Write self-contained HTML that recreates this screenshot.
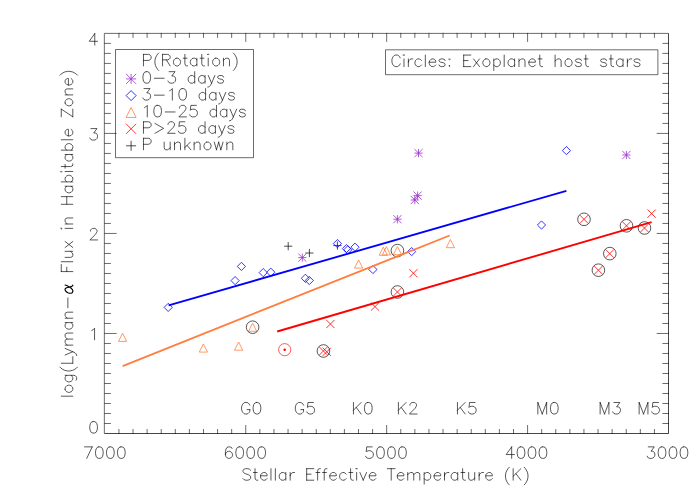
<!DOCTYPE html>
<html><head><meta charset="utf-8"><title>Lyman-alpha flux vs stellar effective temperature</title>
<style>
html,body{margin:0;padding:0;background:#fff;font-family:"Liberation Sans",sans-serif;}
svg{display:block}
</style></head>
<body>
<svg width="700" height="500" viewBox="0 0 700 500">
<rect width="700" height="500" fill="#fff"/>
<g fill="none" stroke-linecap="butt" stroke-linejoin="round">
<path d="M104.85 33.4H668.5V433.5H104.85ZM118.94 433.5v-4M118.94 33.4v4M133.03 433.5v-4M133.03 33.4v4M147.12 433.5v-4M147.12 33.4v4M161.22 433.5v-4M161.22 33.4v4M175.31 433.5v-4M175.31 33.4v4M189.4 433.5v-4M189.4 33.4v4M203.49 433.5v-4M203.49 33.4v4M217.58 433.5v-4M217.58 33.4v4M231.67 433.5v-4M231.67 33.4v4M245.76 433.5v-8M245.76 33.4v8M259.85 433.5v-4M259.85 33.4v4M273.94 433.5v-4M273.94 33.4v4M288.04 433.5v-4M288.04 33.4v4M302.13 433.5v-4M302.13 33.4v4M316.22 433.5v-4M316.22 33.4v4M330.31 433.5v-4M330.31 33.4v4M344.4 433.5v-4M344.4 33.4v4M358.49 433.5v-4M358.49 33.4v4M372.58 433.5v-4M372.58 33.4v4M386.67 433.5v-8M386.67 33.4v8M400.77 433.5v-4M400.77 33.4v4M414.86 433.5v-4M414.86 33.4v4M428.95 433.5v-4M428.95 33.4v4M443.04 433.5v-4M443.04 33.4v4M457.13 433.5v-4M457.13 33.4v4M471.22 433.5v-4M471.22 33.4v4M485.31 433.5v-4M485.31 33.4v4M499.4 433.5v-4M499.4 33.4v4M513.5 433.5v-4M513.5 33.4v4M527.59 433.5v-8M527.59 33.4v8M541.68 433.5v-4M541.68 33.4v4M555.77 433.5v-4M555.77 33.4v4M569.86 433.5v-4M569.86 33.4v4M583.95 433.5v-4M583.95 33.4v4M598.04 433.5v-4M598.04 33.4v4M612.13 433.5v-4M612.13 33.4v4M626.23 433.5v-4M626.23 33.4v4M640.32 433.5v-4M640.32 33.4v4M654.41 433.5v-4M654.41 33.4v4M104.85 423.5h5.6M668.5 423.5h-5.6M104.85 413.5h5.6M668.5 413.5h-5.6M104.85 403.49h5.6M668.5 403.49h-5.6M104.85 393.49h5.6M668.5 393.49h-5.6M104.85 383.49h5.6M668.5 383.49h-5.6M104.85 373.49h5.6M668.5 373.49h-5.6M104.85 363.48h5.6M668.5 363.48h-5.6M104.85 353.48h5.6M668.5 353.48h-5.6M104.85 343.48h5.6M668.5 343.48h-5.6M104.85 333.48h11.3M668.5 333.48h-11.3M104.85 323.47h5.6M668.5 323.47h-5.6M104.85 313.47h5.6M668.5 313.47h-5.6M104.85 303.47h5.6M668.5 303.47h-5.6M104.85 293.46h5.6M668.5 293.46h-5.6M104.85 283.46h5.6M668.5 283.46h-5.6M104.85 273.46h5.6M668.5 273.46h-5.6M104.85 263.46h5.6M668.5 263.46h-5.6M104.85 253.45h5.6M668.5 253.45h-5.6M104.85 243.45h5.6M668.5 243.45h-5.6M104.85 233.45h11.3M668.5 233.45h-11.3M104.85 223.45h5.6M668.5 223.45h-5.6M104.85 213.44h5.6M668.5 213.44h-5.6M104.85 203.44h5.6M668.5 203.44h-5.6M104.85 193.44h5.6M668.5 193.44h-5.6M104.85 183.44h5.6M668.5 183.44h-5.6M104.85 173.44h5.6M668.5 173.44h-5.6M104.85 163.43h5.6M668.5 163.43h-5.6M104.85 153.43h5.6M668.5 153.43h-5.6M104.85 143.43h5.6M668.5 143.43h-5.6M104.85 133.42h11.3M668.5 133.42h-11.3M104.85 123.42h5.6M668.5 123.42h-5.6M104.85 113.42h5.6M668.5 113.42h-5.6M104.85 103.42h5.6M668.5 103.42h-5.6M104.85 93.41h5.6M668.5 93.41h-5.6M104.85 83.41h5.6M668.5 83.41h-5.6M104.85 73.41h5.6M668.5 73.41h-5.6M104.85 63.41h5.6M668.5 63.41h-5.6M104.85 53.4h5.6M668.5 53.4h-5.6M104.85 43.4h5.6M668.5 43.4h-5.6" stroke="#000" stroke-width="0.58" stroke-linecap="square"/>
<path d="M104.85 433.5H668.5V33.4" stroke="#000" stroke-width="0.35"/>
<path d="M115.5 49.5H253.5V157.7H115.5ZM385.5 49.8H657.9V74.7H385.5Z" stroke="#000" stroke-width="0.58"/>
<path d="M92.22 446.87L86.73 458.4M84.53 446.87L92.22 446.87M98.81 446.87L97.16 447.42L96.06 449.06L95.51 451.81L95.51 453.46L96.06 456.2L97.16 457.85L98.81 458.4L99.91 458.4L101.55 457.85L102.65 456.2L103.2 453.46L103.2 451.81L102.65 449.06L101.55 447.42L99.91 446.87L98.81 446.87M109.79 446.87L108.15 447.42L107.05 449.06L106.5 451.81L106.5 453.46L107.05 456.2L108.15 457.85L109.79 458.4L110.89 458.4L112.54 457.85L113.64 456.2L114.19 453.46L114.19 451.81L113.64 449.06L112.54 447.42L110.89 446.87L109.79 446.87M120.78 446.87L119.13 447.42L118.03 449.06L117.48 451.81L117.48 453.46L118.03 456.2L119.13 457.85L120.78 458.4L121.88 458.4L123.52 457.85L124.62 456.2L125.17 453.46L125.17 451.81L124.62 449.06L123.52 447.42L121.88 446.87L120.78 446.87M232.01 448.51L231.46 447.42L229.81 446.87L228.71 446.87L227.06 447.42L225.97 449.06L225.42 451.81L225.42 454.56L225.97 456.75L227.06 457.85L228.71 458.4L229.26 458.4L230.91 457.85L232.01 456.75L232.56 455.1L232.56 454.56L232.01 452.91L230.91 451.81L229.26 451.26L228.71 451.26L227.06 451.81L225.97 452.91L225.42 454.56M239.15 446.87L237.5 447.42L236.4 449.06L235.85 451.81L235.85 453.46L236.4 456.2L237.5 457.85L239.15 458.4L240.25 458.4L241.89 457.85L242.99 456.2L243.54 453.46L243.54 451.81L242.99 449.06L241.89 447.42L240.25 446.87L239.15 446.87M250.13 446.87L248.48 447.42L247.38 449.06L246.84 451.81L246.84 453.46L247.38 456.2L248.48 457.85L250.13 458.4L251.23 458.4L252.88 457.85L253.98 456.2L254.52 453.46L254.52 451.81L253.98 449.06L252.88 447.42L251.23 446.87L250.13 446.87M261.11 446.87L259.47 447.42L258.37 449.06L257.82 451.81L257.82 453.46L258.37 456.2L259.47 457.85L261.11 458.4L262.21 458.4L263.86 457.85L264.96 456.2L265.51 453.46L265.51 451.81L264.96 449.06L263.86 447.42L262.21 446.87L261.11 446.87M372.24 446.87L366.75 446.87L366.2 451.81L366.75 451.26L368.4 450.71L370.05 450.71L371.7 451.26L372.79 452.36L373.34 454.01L373.34 455.1L372.79 456.75L371.7 457.85L370.05 458.4L368.4 458.4L366.75 457.85L366.2 457.3L365.65 456.2M379.93 446.87L378.29 447.42L377.19 449.06L376.64 451.81L376.64 453.46L377.19 456.2L378.29 457.85L379.93 458.4L381.03 458.4L382.68 457.85L383.78 456.2L384.33 453.46L384.33 451.81L383.78 449.06L382.68 447.42L381.03 446.87L379.93 446.87M390.92 446.87L389.27 447.42L388.17 449.06L387.62 451.81L387.62 453.46L388.17 456.2L389.27 457.85L390.92 458.4L392.02 458.4L393.66 457.85L394.76 456.2L395.31 453.46L395.31 451.81L394.76 449.06L393.66 447.42L392.02 446.87L390.92 446.87M401.9 446.87L400.25 447.42L399.16 449.06L398.61 451.81L398.61 453.46L399.16 456.2L400.25 457.85L401.9 458.4L403 458.4L404.65 457.85L405.75 456.2L406.3 453.46L406.3 451.81L405.75 449.06L404.65 447.42L403 446.87L401.9 446.87M511.66 446.87L506.17 454.56L514.41 454.56M511.66 446.87L511.66 458.4M520.45 446.87L518.8 447.42L517.7 449.06L517.15 451.81L517.15 453.46L517.7 456.2L518.8 457.85L520.45 458.4L521.54 458.4L523.19 457.85L524.29 456.2L524.84 453.46L524.84 451.81L524.29 449.06L523.19 447.42L521.54 446.87L520.45 446.87M531.43 446.87L529.78 447.42L528.68 449.06L528.14 451.81L528.14 453.46L528.68 456.2L529.78 457.85L531.43 458.4L532.53 458.4L534.18 457.85L535.27 456.2L535.82 453.46L535.82 451.81L535.27 449.06L534.18 447.42L532.53 446.87L531.43 446.87M542.41 446.87L540.77 447.42L539.67 449.06L539.12 451.81L539.12 453.46L539.67 456.2L540.77 457.85L542.41 458.4L543.51 458.4L545.16 457.85L546.26 456.2L546.81 453.46L546.81 451.81L546.26 449.06L545.16 447.42L543.51 446.87L542.41 446.87M648.28 446.87L654.32 446.87L651.02 451.26L652.67 451.26L653.77 451.81L654.32 452.36L654.87 454.01L654.87 455.1L654.32 456.75L653.22 457.85L651.57 458.4L649.93 458.4L648.28 457.85L647.73 457.3L647.18 456.2M661.46 446.87L659.81 447.42L658.71 449.06L658.16 451.81L658.16 453.46L658.71 456.2L659.81 457.85L661.46 458.4L662.56 458.4L664.2 457.85L665.3 456.2L665.85 453.46L665.85 451.81L665.3 449.06L664.2 447.42L662.56 446.87L661.46 446.87M672.44 446.87L670.8 447.42L669.7 449.06L669.15 451.81L669.15 453.46L669.7 456.2L670.8 457.85L672.44 458.4L673.54 458.4L675.19 457.85L676.29 456.2L676.84 453.46L676.84 451.81L676.29 449.06L675.19 447.42L673.54 446.87L672.44 446.87M683.43 446.87L681.78 447.42L680.68 449.06L680.13 451.81L680.13 453.46L680.68 456.2L681.78 457.85L683.43 458.4L684.53 458.4L686.17 457.85L687.27 456.2L687.82 453.46L687.82 451.81L687.27 449.06L686.17 447.42L684.53 446.87L683.43 446.87M93.06 421.57L91.41 422.12L90.31 423.76L89.76 426.51L89.76 428.16L90.31 430.9L91.41 432.55L93.06 433.1L94.16 433.1L95.8 432.55L96.9 430.9L97.45 428.16L97.45 426.51L96.9 423.76L95.8 422.12L94.16 421.57L93.06 421.57M91.81 330.44L92.91 329.89L94.56 328.24L94.56 339.78M90.41 231.16L90.41 230.61L90.96 229.52L91.51 228.97L92.61 228.42L94.81 228.42L95.9 228.97L96.45 229.52L97 230.61L97 231.71L96.45 232.81L95.36 234.46L89.86 239.95L97.55 239.95M90.96 128.59L97 128.59L93.71 132.99L95.36 132.99L96.45 133.53L97 134.08L97.55 135.73L97.55 136.83L97 138.48L95.9 139.58L94.26 140.12L92.61 140.12L90.96 139.58L90.41 139.03L89.86 137.93M94.76 33.6L89.26 41.29L97.5 41.29M94.76 33.6L94.76 45.13M250.64 470.31L249.54 469.22L247.89 468.67L245.7 468.67L244.05 469.22L242.95 470.31L242.95 471.41L243.5 472.51L244.05 473.06L245.15 473.61L248.44 474.71L249.54 475.26L250.09 475.81L250.64 476.9L250.64 478.55L249.54 479.65L247.89 480.2L245.7 480.2L244.05 479.65L242.95 478.55M255.03 468.67L255.03 478L255.58 479.65L256.68 480.2L257.78 480.2M253.38 472.51L257.23 472.51M260.52 475.81L267.11 475.81L267.11 474.71L266.57 473.61L266.02 473.06L264.92 472.51L263.27 472.51L262.17 473.06L261.07 474.16L260.52 475.81L260.52 476.9L261.07 478.55L262.17 479.65L263.27 480.2L264.92 480.2L266.02 479.65L267.11 478.55M270.96 468.67L270.96 480.2M275.35 468.67L275.35 480.2M285.79 472.51L285.79 480.2M285.79 474.16L284.69 473.06L283.59 472.51L281.94 472.51L280.84 473.06L279.75 474.16L279.2 475.81L279.2 476.9L279.75 478.55L280.84 479.65L281.94 480.2L283.59 480.2L284.69 479.65L285.79 478.55M290.18 472.51L290.18 480.2M290.18 475.81L290.73 474.16L291.83 473.06L292.93 472.51L294.57 472.51M306.66 468.67L306.66 480.2M306.66 468.67L313.8 468.67M306.66 474.16L311.05 474.16M306.66 480.2L313.8 480.2M320.39 468.67L319.29 468.67L318.19 469.22L317.64 470.86L317.64 480.2M315.99 472.51L319.84 472.51M326.98 468.67L325.88 468.67L324.78 469.22L324.23 470.86L324.23 480.2M322.58 472.51L326.43 472.51M329.72 475.81L336.31 475.81L336.31 474.71L335.76 473.61L335.22 473.06L334.12 472.51L332.47 472.51L331.37 473.06L330.27 474.16L329.72 475.81L329.72 476.9L330.27 478.55L331.37 479.65L332.47 480.2L334.12 480.2L335.22 479.65L336.31 478.55M346.2 474.16L345.1 473.06L344 472.51L342.36 472.51L341.26 473.06L340.16 474.16L339.61 475.81L339.61 476.9L340.16 478.55L341.26 479.65L342.36 480.2L344 480.2L345.1 479.65L346.2 478.55M350.59 468.67L350.59 478L351.14 479.65L352.24 480.2L353.34 480.2M348.95 472.51L352.79 472.51M356.09 468.67L356.63 469.22L357.18 468.67L356.63 468.12L356.09 468.67M356.63 472.51L356.63 480.2M359.93 472.51L363.22 480.2M366.52 472.51L363.22 480.2M369.27 475.81L375.86 475.81L375.86 474.71L375.31 473.61L374.76 473.06L373.66 472.51L372.01 472.51L370.91 473.06L369.82 474.16L369.27 475.81L369.27 476.9L369.82 478.55L370.91 479.65L372.01 480.2L373.66 480.2L374.76 479.65L375.86 478.55M391.23 468.67L391.23 480.2M387.39 468.67L395.08 468.67M397.28 475.81L403.87 475.81L403.87 474.71L403.32 473.61L402.77 473.06L401.67 472.51L400.02 472.51L398.92 473.06L397.82 474.16L397.28 475.81L397.28 476.9L397.82 478.55L398.92 479.65L400.02 480.2L401.67 480.2L402.77 479.65L403.87 478.55M407.71 472.51L407.71 480.2M407.71 474.71L409.36 473.06L410.46 472.51L412.1 472.51L413.2 473.06L413.75 474.71L413.75 480.2M413.75 474.71L415.4 473.06L416.5 472.51L418.14 472.51L419.24 473.06L419.79 474.71L419.79 480.2M424.19 472.51L424.19 484.04M424.19 474.16L425.28 473.06L426.38 472.51L428.03 472.51L429.13 473.06L430.23 474.16L430.78 475.81L430.78 476.9L430.23 478.55L429.13 479.65L428.03 480.2L426.38 480.2L425.28 479.65L424.19 478.55M434.07 475.81L440.66 475.81L440.66 474.71L440.11 473.61L439.56 473.06L438.47 472.51L436.82 472.51L435.72 473.06L434.62 474.16L434.07 475.81L434.07 476.9L434.62 478.55L435.72 479.65L436.82 480.2L438.47 480.2L439.56 479.65L440.66 478.55M444.51 472.51L444.51 480.2M444.51 475.81L445.06 474.16L446.15 473.06L447.25 472.51L448.9 472.51M457.69 472.51L457.69 480.2M457.69 474.16L456.59 473.06L455.49 472.51L453.84 472.51L452.74 473.06L451.65 474.16L451.1 475.81L451.1 476.9L451.65 478.55L452.74 479.65L453.84 480.2L455.49 480.2L456.59 479.65L457.69 478.55M462.63 468.67L462.63 478L463.18 479.65L464.28 480.2L465.38 480.2M460.98 472.51L464.83 472.51M468.67 472.51L468.67 478L469.22 479.65L470.32 480.2L471.97 480.2L473.06 479.65L474.71 478M474.71 472.51L474.71 480.2M479.11 472.51L479.11 480.2M479.11 475.81L479.66 474.16L480.75 473.06L481.85 472.51L483.5 472.51M485.7 475.81L492.29 475.81L492.29 474.71L491.74 473.61L491.19 473.06L490.09 472.51L488.44 472.51L487.34 473.06L486.25 474.16L485.7 475.81L485.7 476.9L486.25 478.55L487.34 479.65L488.44 480.2L490.09 480.2L491.19 479.65L492.29 478.55M509.31 467.29L508.21 468.39L507.12 470.04L506.02 472.24L505.47 474.98L505.47 477.18L506.02 479.93L507.12 482.12L508.21 483.77L509.31 484.87M513.16 468.67L513.16 480.2M520.85 468.67L513.16 476.36M515.9 473.61L520.85 480.2M524.14 467.29L525.24 468.39L526.34 470.04L527.44 472.24L527.98 474.98L527.98 477.18L527.44 479.93L526.34 482.12L525.24 483.77L524.14 484.87M61.27 396.2L72.8 396.2M65.11 389.61L65.66 390.71L66.76 391.81L68.41 392.36L69.5 392.36L71.15 391.81L72.25 390.71L72.8 389.61L72.8 387.97L72.25 386.87L71.15 385.77L69.5 385.22L68.41 385.22L66.76 385.77L65.66 386.87L65.11 387.97L65.11 389.61M65.11 375.33L73.9 375.33L75.55 375.88L76.1 376.43L76.64 377.53L76.64 379.18L76.1 380.28M66.76 375.33L65.66 376.43L65.11 377.53L65.11 379.18L65.66 380.28L66.76 381.37L68.41 381.92L69.5 381.92L71.15 381.37L72.25 380.28L72.8 379.18L72.8 377.53L72.25 376.43L71.15 375.33M59.89 367.1L60.99 368.19L62.64 369.29L64.84 370.39L67.58 370.94L69.78 370.94L72.53 370.39L74.72 369.29L76.37 368.19L77.47 367.1M61.27 363.25L72.8 363.25M72.8 363.25L72.8 356.66M65.11 355.01L72.8 351.72M65.11 348.42L72.8 351.72L75 352.82L76.1 353.91L76.64 355.01L76.64 355.56M65.11 345.13L72.8 345.13M67.31 345.13L65.66 343.48L65.11 342.38L65.11 340.73L65.66 339.64L67.31 339.09L72.8 339.09M67.31 339.09L65.66 337.44L65.11 336.34L65.11 334.69L65.66 333.59L67.31 333.05L72.8 333.05M65.11 322.61L72.8 322.61M66.76 322.61L65.66 323.71L65.11 324.81L65.11 326.45L65.66 327.55L66.76 328.65L68.41 329.2L69.5 329.2L71.15 328.65L72.25 327.55L72.8 326.45L72.8 324.81L72.25 323.71L71.15 322.61M65.11 318.22L72.8 318.22M67.31 318.22L65.66 316.57L65.11 315.47L65.11 313.82L65.66 312.72L67.31 312.18L72.8 312.18M67.86 307.78L67.86 297.9M61.27 271.58L72.8 271.58M61.27 271.58L61.27 264.47M66.76 271.58L66.76 267.2M61.27 261.73L72.8 261.73M65.11 257.36L70.6 257.36L72.25 256.81L72.8 255.72L72.8 254.08L72.25 252.98L70.6 251.34M65.11 251.34L72.8 251.34M65.11 247.51L72.8 241.5M65.11 241.5L72.8 247.51M61.27 228.91L61.82 228.37L61.27 227.82L60.72 228.37L61.27 228.91M65.11 228.37L72.8 228.37M65.11 223.99L72.8 223.99M67.31 223.99L65.66 222.35L65.11 221.26L65.11 219.62L65.66 218.52L67.31 217.97L72.8 217.97M61.27 204.3L72.8 204.3M61.27 196.64L72.8 196.64M66.76 204.3L66.76 196.64M65.11 186.25L72.8 186.25M66.76 186.25L65.66 187.34L65.11 188.44L65.11 190.08L65.66 191.17L66.76 192.27L68.41 192.81L69.5 192.81L71.15 192.27L72.25 191.17L72.8 190.08L72.8 188.44L72.25 187.34L71.15 186.25M61.27 181.87L72.8 181.87M66.76 181.87L65.66 180.78L65.11 179.68L65.11 178.04L65.66 176.95L66.76 175.86L68.41 175.31L69.5 175.31L71.15 175.86L72.25 176.95L72.8 178.04L72.8 179.68L72.25 180.78L71.15 181.87M61.27 172.03L61.82 171.48L61.27 170.93L60.72 171.48L61.27 172.03M65.11 171.48L72.8 171.48M61.27 166.56L70.6 166.56L72.25 166.01L72.8 164.92L72.8 163.82M65.11 168.2L65.11 164.37M65.11 154.52L72.8 154.52M66.76 154.52L65.66 155.62L65.11 156.71L65.11 158.35L65.66 159.45L66.76 160.54L68.41 161.09L69.5 161.09L71.15 160.54L72.25 159.45L72.8 158.35L72.8 156.71L72.25 155.62L71.15 154.52M61.27 150.15L72.8 150.15M66.76 150.15L65.66 149.05L65.11 147.96L65.11 146.32L65.66 145.22L66.76 144.13L68.41 143.58L69.5 143.58L71.15 144.13L72.25 145.22L72.8 146.32L72.8 147.96L72.25 149.05L71.15 150.15M61.27 139.75L72.8 139.75M68.41 135.92L68.41 129.36L67.31 129.36L66.21 129.91L65.66 130.45L65.11 131.55L65.11 133.19L65.66 134.28L66.76 135.38L68.41 135.92L69.5 135.92L71.15 135.38L72.25 134.28L72.8 133.19L72.8 131.55L72.25 130.45L71.15 129.36M61.27 109.12L72.8 116.78M61.27 116.78L61.27 109.12M72.8 116.78L72.8 109.12M65.11 103.1L65.66 104.2L66.76 105.29L68.41 105.84L69.5 105.84L71.15 105.29L72.25 104.2L72.8 103.1L72.8 101.46L72.25 100.37L71.15 99.27L69.5 98.73L68.41 98.73L66.76 99.27L65.66 100.37L65.11 101.46L65.11 103.1M65.11 94.9L72.8 94.9M67.31 94.9L65.66 93.26L65.11 92.16L65.11 90.52L65.66 89.43L67.31 88.88L72.8 88.88M68.41 85.05L68.41 78.49L67.31 78.49L66.21 79.04L65.66 79.58L65.11 80.68L65.11 82.32L65.66 83.41L66.76 84.51L68.41 85.05L69.5 85.05L71.15 84.51L72.25 83.41L72.8 82.32L72.8 80.68L72.25 79.58L71.15 78.49M59.89 75.21L60.99 74.11L62.64 73.02L64.84 71.92L67.58 71.38L69.78 71.38L72.53 71.92L74.72 73.02L76.37 74.11L77.47 75.21M249.83 405.21L249.28 404.11L248.18 403.02L247.08 402.47L244.88 402.47L243.79 403.02L242.69 404.11L242.14 405.21L241.59 406.86L241.59 409.61L242.14 411.25L242.69 412.35L243.79 413.45L244.88 414L247.08 414L248.18 413.45L249.28 412.35L249.83 411.25L249.83 409.61M247.08 409.61L249.83 409.61M256.42 402.47L254.77 403.02L253.67 404.66L253.12 407.41L253.12 409.06L253.67 411.8L254.77 413.45L256.42 414L257.52 414L259.16 413.45L260.26 411.8L260.81 409.06L260.81 407.41L260.26 404.66L259.16 403.02L257.52 402.47L256.42 402.47M303.58 405.21L303.03 404.11L301.93 403.02L300.83 402.47L298.63 402.47L297.54 403.02L296.44 404.11L295.89 405.21L295.34 406.86L295.34 409.61L295.89 411.25L296.44 412.35L297.54 413.45L298.63 414L300.83 414L301.93 413.45L303.03 412.35L303.58 411.25L303.58 409.61M300.83 409.61L303.58 409.61M313.46 402.47L307.97 402.47L307.42 407.41L307.97 406.86L309.62 406.31L311.27 406.31L312.91 406.86L314.01 407.96L314.56 409.61L314.56 410.7L314.01 412.35L312.91 413.45L311.27 414L309.62 414L307.97 413.45L307.42 412.9L306.87 411.8M353.46 402.47L353.46 414M361.15 402.47L353.46 410.16M356.21 407.41L361.15 414M367.74 402.47L366.1 403.02L365 404.66L364.45 407.41L364.45 409.06L365 411.8L366.1 413.45L367.74 414L368.84 414L370.49 413.45L371.59 411.8L372.14 409.06L372.14 407.41L371.59 404.66L370.49 403.02L368.84 402.47L367.74 402.47M398.41 402.47L398.41 414M406.1 402.47L398.41 410.16M401.16 407.41L406.1 414M409.95 405.21L409.95 404.66L410.5 403.57L411.05 403.02L412.14 402.47L414.34 402.47L415.44 403.02L415.99 403.57L416.54 404.66L416.54 405.76L415.99 406.86L414.89 408.51L409.4 414L417.09 414M457.46 402.47L457.46 414M465.15 402.47L457.46 410.16M460.21 407.41L465.15 414M475.04 402.47L469.55 402.47L469 407.41L469.55 406.86L471.19 406.31L472.84 406.31L474.49 406.86L475.59 407.96L476.14 409.61L476.14 410.7L475.59 412.35L474.49 413.45L472.84 414L471.19 414L469.55 413.45L469 412.9L468.45 411.8M537.84 402.47L537.84 414M537.84 402.47L542.23 414M546.63 402.47L542.23 414M546.63 402.47L546.63 414M553.77 402.47L552.12 403.02L551.02 404.66L550.47 407.41L550.47 409.06L551.02 411.8L552.12 413.45L553.77 414L554.87 414L556.51 413.45L557.61 411.8L558.16 409.06L558.16 407.41L557.61 404.66L556.51 403.02L554.87 402.47L553.77 402.47M600.14 402.47L600.14 414M600.14 402.47L604.53 414M608.93 402.47L604.53 414M608.93 402.47L608.93 414M613.87 402.47L619.91 402.47L616.62 406.86L618.26 406.86L619.36 407.41L619.91 407.96L620.46 409.61L620.46 410.7L619.91 412.35L618.81 413.45L617.16 414L615.52 414L613.87 413.45L613.32 412.9L612.77 411.8M639.14 402.47L639.14 414M639.14 402.47L643.53 414M647.93 402.47L643.53 414M647.93 402.47L647.93 414M658.36 402.47L652.87 402.47L652.32 407.41L652.87 406.86L654.52 406.31L656.16 406.31L657.81 406.86L658.91 407.96L659.46 409.61L659.46 410.7L658.91 412.35L657.81 413.45L656.16 414L654.52 414L652.87 413.45L652.32 412.9L651.77 411.8M143.48 54.37L143.48 65.9M143.48 54.37L148.38 54.37L150.02 54.92L150.56 55.47L151.11 56.56L151.11 58.21L150.56 59.31L150.02 59.86L148.38 60.41L143.48 60.41M158.73 52.99L157.64 54.09L156.55 55.74L155.46 57.94L154.92 60.68L154.92 62.88L155.46 65.63L156.55 67.82L157.64 69.47L158.73 70.57M162.55 54.37L162.55 65.9M162.55 54.37L167.45 54.37L169.09 54.92L169.63 55.47L170.17 56.56L170.17 57.66L169.63 58.76L169.09 59.31L167.45 59.86L162.55 59.86M166.36 59.86L170.17 65.9M176.17 58.21L175.08 58.76L173.99 59.86L173.44 61.51L173.44 62.6L173.99 64.25L175.08 65.35L176.17 65.9L177.8 65.9L178.89 65.35L179.98 64.25L180.53 62.6L180.53 61.51L179.98 59.86L178.89 58.76L177.8 58.21L176.17 58.21M184.88 54.37L184.88 63.7L185.43 65.35L186.52 65.9L187.61 65.9M183.25 58.21L187.06 58.21M196.87 58.21L196.87 65.9M196.87 59.86L195.78 58.76L194.69 58.21L193.06 58.21L191.97 58.76L190.88 59.86L190.33 61.51L190.33 62.6L190.88 64.25L191.97 65.35L193.06 65.9L194.69 65.9L195.78 65.35L196.87 64.25M201.77 54.37L201.77 63.7L202.32 65.35L203.41 65.9L204.5 65.9M200.14 58.21L203.95 58.21M207.67 54.37L208.22 54.92L208.76 54.37L208.22 53.82L207.67 54.37M208.22 58.21L208.22 65.9M215.3 58.21L214.21 58.76L213.12 59.86L212.58 61.51L212.58 62.6L213.12 64.25L214.21 65.35L215.3 65.9L216.94 65.9L218.03 65.35L219.12 64.25L219.66 62.6L219.66 61.51L219.12 59.86L218.03 58.76L216.94 58.21L215.3 58.21M223.48 58.21L223.48 65.9M223.48 60.41L225.11 58.76L226.2 58.21L227.83 58.21L228.92 58.76L229.47 60.41L229.47 65.9M233.28 52.99L234.37 54.09L235.46 55.74L236.55 57.94L237.1 60.68L237.1 62.88L236.55 65.63L235.46 67.82L234.37 69.47L233.28 70.57M146.2 71.67L144.57 72.22L143.48 73.86L142.93 76.61L142.93 78.26L143.48 81L144.57 82.65L146.2 83.2L147.29 83.2L148.93 82.65L150.02 81L150.56 78.26L150.56 76.61L150.02 73.86L148.93 72.22L147.29 71.67L146.2 71.67M154.38 78.26L164.18 78.26M169.09 71.67L175.08 71.67L171.81 76.06L173.44 76.06L174.53 76.61L175.08 77.16L175.62 78.81L175.62 79.9L175.08 81.55L173.99 82.65L172.35 83.2L170.72 83.2L169.09 82.65L168.54 82.1L168 81M194.69 71.67L194.69 83.2M194.69 77.16L193.6 76.06L192.51 75.51L190.88 75.51L189.79 76.06L188.7 77.16L188.15 78.81L188.15 79.9L188.7 81.55L189.79 82.65L190.88 83.2L192.51 83.2L193.6 82.65L194.69 81.55M205.04 75.51L205.04 83.2M205.04 77.16L203.95 76.06L202.86 75.51L201.23 75.51L200.14 76.06L199.05 77.16L198.5 78.81L198.5 79.9L199.05 81.55L200.14 82.65L201.23 83.2L202.86 83.2L203.95 82.65L205.04 81.55M208.31 75.51L211.58 83.2M214.85 75.51L211.58 83.2L210.49 85.4L209.4 86.5L208.31 87.04L207.77 87.04M223.57 77.16L223.02 76.06L221.39 75.51L219.75 75.51L218.12 76.06L217.57 77.16L218.12 78.26L219.21 78.81L221.93 79.36L223.02 79.9L223.57 81L223.57 81.55L223.02 82.65L221.39 83.2L219.75 83.2L218.12 82.65L217.57 81.55M144.02 88.57L150.02 88.57L146.75 92.96L148.38 92.96L149.47 93.51L150.02 94.06L150.56 95.71L150.56 96.8L150.02 98.45L148.93 99.55L147.29 100.1L145.66 100.1L144.02 99.55L143.48 99L142.93 97.9M154.38 95.16L164.18 95.16M169.63 90.76L170.72 90.21L172.35 88.57L172.35 100.1M182.16 88.57L180.53 89.12L179.44 90.76L178.89 93.51L178.89 95.16L179.44 97.9L180.53 99.55L182.16 100.1L183.25 100.1L184.88 99.55L185.97 97.9L186.52 95.16L186.52 93.51L185.97 90.76L184.88 89.12L183.25 88.57L182.16 88.57M205.59 88.57L205.59 100.1M205.59 94.06L204.5 92.96L203.41 92.41L201.77 92.41L200.68 92.96L199.59 94.06L199.05 95.71L199.05 96.8L199.59 98.45L200.68 99.55L201.77 100.1L203.41 100.1L204.5 99.55L205.59 98.45M215.94 92.41L215.94 100.1M215.94 94.06L214.85 92.96L213.76 92.41L212.12 92.41L211.04 92.96L209.95 94.06L209.4 95.71L209.4 96.8L209.95 98.45L211.04 99.55L212.12 100.1L213.76 100.1L214.85 99.55L215.94 98.45M219.21 92.41L222.48 100.1M225.74 92.41L222.48 100.1L221.39 102.3L220.3 103.4L219.21 103.94L218.66 103.94M234.46 94.06L233.92 92.96L232.28 92.41L230.65 92.41L229.01 92.96L228.47 94.06L229.01 95.16L230.1 95.71L232.83 96.26L233.92 96.8L234.46 97.9L234.46 98.45L233.92 99.55L232.28 100.1L230.65 100.1L229.01 99.55L228.47 98.45M144.57 107.56L145.66 107.01L147.29 105.37L147.29 116.9M157.1 105.37L155.46 105.92L154.38 107.56L153.83 110.31L153.83 111.96L154.38 114.7L155.46 116.35L157.1 116.9L158.19 116.9L159.82 116.35L160.91 114.7L161.46 111.96L161.46 110.31L160.91 107.56L159.82 105.92L158.19 105.37L157.1 105.37M165.27 111.96L175.08 111.96M179.44 108.11L179.44 107.56L179.98 106.47L180.53 105.92L181.62 105.37L183.79 105.37L184.88 105.92L185.43 106.47L185.97 107.56L185.97 108.66L185.43 109.76L184.34 111.41L178.89 116.9L186.52 116.9M196.33 105.37L190.88 105.37L190.33 110.31L190.88 109.76L192.51 109.21L194.15 109.21L195.78 109.76L196.87 110.86L197.42 112.51L197.42 113.6L196.87 115.25L195.78 116.35L194.15 116.9L192.51 116.9L190.88 116.35L190.33 115.8L189.79 114.7M216.48 105.37L216.48 116.9M216.48 110.86L215.39 109.76L214.3 109.21L212.67 109.21L211.58 109.76L210.49 110.86L209.95 112.51L209.95 113.6L210.49 115.25L211.58 116.35L212.67 116.9L214.3 116.9L215.39 116.35L216.48 115.25M226.83 109.21L226.83 116.9M226.83 110.86L225.74 109.76L224.66 109.21L223.02 109.21L221.93 109.76L220.84 110.86L220.3 112.51L220.3 113.6L220.84 115.25L221.93 116.35L223.02 116.9L224.66 116.9L225.74 116.35L226.83 115.25M230.1 109.21L233.37 116.9M236.64 109.21L233.37 116.9L232.28 119.1L231.19 120.2L230.1 120.74L229.56 120.74M245.36 110.86L244.81 109.76L243.18 109.21L241.54 109.21L239.91 109.76L239.37 110.86L239.91 111.96L241 112.51L243.72 113.06L244.81 113.6L245.36 114.7L245.36 115.25L244.81 116.35L243.18 116.9L241.54 116.9L239.91 116.35L239.37 115.25M143.48 121.77L143.48 133.3M143.48 121.77L148.38 121.77L150.02 122.32L150.56 122.87L151.11 123.96L151.11 125.61L150.56 126.71L150.02 127.26L148.38 127.81L143.48 127.81M154.92 123.41L163.64 128.36L154.92 133.3M168 124.51L168 123.96L168.54 122.87L169.09 122.32L170.17 121.77L172.35 121.77L173.44 122.32L173.99 122.87L174.53 123.96L174.53 125.06L173.99 126.16L172.9 127.81L167.45 133.3L175.08 133.3M184.88 121.77L179.44 121.77L178.89 126.71L179.44 126.16L181.07 125.61L182.71 125.61L184.34 126.16L185.43 127.26L185.97 128.91L185.97 130L185.43 131.65L184.34 132.75L182.71 133.3L181.07 133.3L179.44 132.75L178.89 132.2L178.35 131.1M205.04 121.77L205.04 133.3M205.04 127.26L203.95 126.16L202.86 125.61L201.23 125.61L200.14 126.16L199.05 127.26L198.5 128.91L198.5 130L199.05 131.65L200.14 132.75L201.23 133.3L202.86 133.3L203.95 132.75L205.04 131.65M215.39 125.61L215.39 133.3M215.39 127.26L214.3 126.16L213.21 125.61L211.58 125.61L210.49 126.16L209.4 127.26L208.86 128.91L208.86 130L209.4 131.65L210.49 132.75L211.58 133.3L213.21 133.3L214.3 132.75L215.39 131.65M218.66 125.61L221.93 133.3M225.2 125.61L221.93 133.3L220.84 135.5L219.75 136.6L218.66 137.14L218.12 137.14M233.92 127.26L233.37 126.16L231.74 125.61L230.1 125.61L228.47 126.16L227.92 127.26L228.47 128.36L229.56 128.91L232.28 129.46L233.37 130L233.92 131.1L233.92 131.65L233.37 132.75L231.74 133.3L230.1 133.3L228.47 132.75L227.92 131.65M143.48 138.27L143.48 149.8M143.48 138.27L148.38 138.27L150.02 138.82L150.56 139.37L151.11 140.46L151.11 142.11L150.56 143.21L150.02 143.76L148.38 144.31L143.48 144.31M164.18 142.11L164.18 147.6L164.73 149.25L165.82 149.8L167.45 149.8L168.54 149.25L170.17 147.6M170.17 142.11L170.17 149.8M174.53 142.11L174.53 149.8M174.53 144.31L176.17 142.66L177.26 142.11L178.89 142.11L179.98 142.66L180.53 144.31L180.53 149.8M184.88 138.27L184.88 149.8M190.33 142.11L184.88 147.6M187.06 145.41L190.88 149.8M194.15 142.11L194.15 149.8M194.15 144.31L195.78 142.66L196.87 142.11L198.5 142.11L199.59 142.66L200.14 144.31L200.14 149.8M206.68 142.11L205.59 142.66L204.5 143.76L203.95 145.41L203.95 146.5L204.5 148.15L205.59 149.25L206.68 149.8L208.31 149.8L209.4 149.25L210.49 148.15L211.04 146.5L211.04 145.41L210.49 143.76L209.4 142.66L208.31 142.11L206.68 142.11M214.3 142.11L216.48 149.8M218.66 142.11L216.48 149.8M218.66 142.11L220.84 149.8M223.02 142.11L220.84 149.8M226.83 142.11L226.83 149.8M226.83 144.31L228.47 142.66L229.56 142.11L231.19 142.11L232.28 142.66L232.83 144.31L232.83 149.8M400.16 57.81L399.61 56.71L398.51 55.62L397.42 55.07L395.23 55.07L394.13 55.62L393.04 56.71L392.49 57.81L391.94 59.46L391.94 62.21L392.49 63.85L393.04 64.95L394.13 66.05L395.23 66.6L397.42 66.6L398.51 66.05L399.61 64.95L400.16 63.85M403.44 55.07L403.99 55.62L404.54 55.07L403.99 54.52L403.44 55.07M403.99 58.91L403.99 66.6M408.37 58.91L408.37 66.6M408.37 62.21L408.92 60.56L410.01 59.46L411.11 58.91L412.75 58.91M421.51 60.56L420.42 59.46L419.32 58.91L417.68 58.91L416.58 59.46L415.49 60.56L414.94 62.21L414.94 63.3L415.49 64.95L416.58 66.05L417.68 66.6L419.32 66.6L420.42 66.05L421.51 64.95M425.34 55.07L425.34 66.6M429.18 62.21L435.75 62.21L435.75 61.11L435.2 60.01L434.65 59.46L433.56 58.91L431.91 58.91L430.82 59.46L429.72 60.56L429.18 62.21L429.18 63.3L429.72 64.95L430.82 66.05L431.91 66.6L433.56 66.6L434.65 66.05L435.75 64.95M445.06 60.56L444.51 59.46L442.87 58.91L441.22 58.91L439.58 59.46L439.03 60.56L439.58 61.66L440.67 62.21L443.41 62.76L444.51 63.3L445.06 64.4L445.06 64.95L444.51 66.05L442.87 66.6L441.22 66.6L439.58 66.05L439.03 64.95M449.44 58.91L448.89 59.46L449.44 60.01L449.98 59.46L449.44 58.91M449.44 65.5L448.89 66.05L449.44 66.6L449.98 66.05L449.44 65.5M463.67 55.07L463.67 66.6M463.67 55.07L470.79 55.07M463.67 60.56L468.05 60.56M463.67 66.6L470.79 66.6M473.53 58.91L479.55 66.6M479.55 58.91L473.53 66.6M485.57 58.91L484.48 59.46L483.38 60.56L482.84 62.21L482.84 63.3L483.38 64.95L484.48 66.05L485.57 66.6L487.22 66.6L488.31 66.05L489.41 64.95L489.95 63.3L489.95 62.21L489.41 60.56L488.31 59.46L487.22 58.91L485.57 58.91M493.79 58.91L493.79 70.44M493.79 60.56L494.88 59.46L495.98 58.91L497.62 58.91L498.72 59.46L499.81 60.56L500.36 62.21L500.36 63.3L499.81 64.95L498.72 66.05L497.62 66.6L495.98 66.6L494.88 66.05L493.79 64.95M504.19 55.07L504.19 66.6M514.59 58.91L514.59 66.6M514.59 60.56L513.5 59.46L512.4 58.91L510.76 58.91L509.67 59.46L508.57 60.56L508.02 62.21L508.02 63.3L508.57 64.95L509.67 66.05L510.76 66.6L512.4 66.6L513.5 66.05L514.59 64.95M518.97 58.91L518.97 66.6M518.97 61.11L520.62 59.46L521.71 58.91L523.36 58.91L524.45 59.46L525 61.11L525 66.6M528.83 62.21L535.4 62.21L535.4 61.11L534.85 60.01L534.31 59.46L533.21 58.91L531.57 58.91L530.47 59.46L529.38 60.56L528.83 62.21L528.83 63.3L529.38 64.95L530.47 66.05L531.57 66.6L533.21 66.6L534.31 66.05L535.4 64.95M539.78 55.07L539.78 64.4L540.33 66.05L541.42 66.6L542.52 66.6M538.14 58.91L541.97 58.91M555.11 55.07L555.11 66.6M555.11 61.11L556.76 59.46L557.85 58.91L559.49 58.91L560.59 59.46L561.14 61.11L561.14 66.6M567.71 58.91L566.61 59.46L565.52 60.56L564.97 62.21L564.97 63.3L565.52 64.95L566.61 66.05L567.71 66.6L569.35 66.6L570.44 66.05L571.54 64.95L572.09 63.3L572.09 62.21L571.54 60.56L570.44 59.46L569.35 58.91L567.71 58.91M581.4 60.56L580.85 59.46L579.21 58.91L577.56 58.91L575.92 59.46L575.37 60.56L575.92 61.66L577.02 62.21L579.75 62.76L580.85 63.3L581.4 64.4L581.4 64.95L580.85 66.05L579.21 66.6L577.56 66.6L575.92 66.05L575.37 64.95M585.78 55.07L585.78 64.4L586.32 66.05L587.42 66.6L588.51 66.6M584.13 58.91L587.97 58.91M606.58 60.56L606.04 59.46L604.39 58.91L602.75 58.91L601.11 59.46L600.56 60.56L601.11 61.66L602.2 62.21L604.94 62.76L606.04 63.3L606.58 64.4L606.58 64.95L606.04 66.05L604.39 66.6L602.75 66.6L601.11 66.05L600.56 64.95M610.96 55.07L610.96 64.4L611.51 66.05L612.61 66.6L613.7 66.6M609.32 58.91L613.15 58.91M623.01 58.91L623.01 66.6M623.01 60.56L621.91 59.46L620.82 58.91L619.18 58.91L618.08 59.46L616.99 60.56L616.44 62.21L616.44 63.3L616.99 64.95L618.08 66.05L619.18 66.6L620.82 66.6L621.91 66.05L623.01 64.95M627.39 58.91L627.39 66.6M627.39 62.21L627.94 60.56L629.03 59.46L630.13 58.91L631.77 58.91M639.98 60.56L639.44 59.46L637.79 58.91L636.15 58.91L634.51 59.46L633.96 60.56L634.51 61.66L635.6 62.21L638.34 62.76L639.44 63.3L639.98 64.4L639.98 64.95L639.44 66.05L637.79 66.6L636.15 66.6L634.51 66.05L633.96 64.95" stroke="#000" stroke-width="0.66" stroke-linecap="round"/>
<path d="M65.11 289.93L65.66 291.03L66.76 292.13L67.86 292.68L69.5 293.23L71.15 293.23L72.25 292.68L72.8 291.58L72.8 290.48L72.25 289.38L70.6 287.74L68.96 286.64L66.76 285.54L65.11 284.99M65.11 289.93L65.11 288.83L65.66 288.29L66.76 287.74L71.15 286.64L72.25 286.09L72.8 285.54L72.8 284.99" stroke="#000" stroke-width="1.15" stroke-linecap="round"/>
<path d="M284.1 246.2h8.2M288.2 242.1v8.2M305.3 253h8.2M309.4 248.9v8.2M333.3 245.6h8.2M337.4 241.5v8.2M126.1 145.8h10M131.1 140.8v10" stroke="#000" stroke-width="0.7"/>
<path d="M414.4 153.1h8.2M418.5 149v8.2M414.4 149l8.2 8.2M414.4 157.2l8.2 -8.2M413.5 195.6h8.2M417.6 191.5v8.2M413.5 191.5l8.2 8.2M413.5 199.7l8.2 -8.2M410.7 200h8.2M414.8 195.9v8.2M410.7 195.9l8.2 8.2M410.7 204.1l8.2 -8.2M393.3 219.2h8.2M397.4 215.1v8.2M393.3 215.1l8.2 8.2M393.3 223.3l8.2 -8.2M298.2 257.6h8.2M302.3 253.5v8.2M298.2 253.5l8.2 8.2M298.2 261.7l8.2 -8.2M622.3 155h8.2M626.4 150.9v8.2M622.3 150.9l8.2 8.2M622.3 159.1l8.2 -8.2M126.1 78.9h10M131.1 73.9v10M126.1 73.9l10 10M126.1 83.9l10 -10" stroke="#9932cc" stroke-width="0.8"/>
<path d="M164.1 307.4L168.2 303.3L172.3 307.4L168.2 311.5ZM231 280.6L235.1 276.5L239.2 280.6L235.1 284.7ZM237.3 266.4L241.4 262.3L245.5 266.4L241.4 270.5ZM259.1 272.6L263.2 268.5L267.3 272.6L263.2 276.7ZM266.7 272.2L270.8 268.1L274.9 272.2L270.8 276.3ZM301.3 278.3L305.4 274.2L309.5 278.3L305.4 282.4ZM305.2 280.5L309.3 276.4L313.4 280.5L309.3 284.6ZM333.3 243.6L337.4 239.5L341.5 243.6L337.4 247.7ZM342.3 248.6L346.4 244.5L350.5 248.6L346.4 252.7ZM343.7 249.8L347.8 245.7L351.9 249.8L347.8 253.9ZM350.9 247.2L355 243.1L359.1 247.2L355 251.3ZM368.8 269.5L372.9 265.4L377 269.5L372.9 273.6ZM407.5 251.6L411.6 247.5L415.7 251.6L411.6 255.7ZM537.4 225L541.5 220.9L545.6 225L541.5 229.1ZM562.3 150.6L566.4 146.5L570.5 150.6L566.4 154.7ZM126.1 95.6L131.1 90.6L136.1 95.6L131.1 100.6Z" stroke="#0000ff" stroke-width="0.8"/>
<path d="M118.5 341.4L122.6 333.2L126.7 341.4ZM199.3 352.1L203.4 343.9L207.5 352.1ZM234.5 350.2L238.6 342L242.7 350.2ZM248.5 331.3L252.6 323.1L256.7 331.3ZM354.5 268.1L358.6 259.9L362.7 268.1ZM379.2 255.3L383.3 247.1L387.4 255.3ZM382.3 254.9L386.4 246.7L390.5 254.9ZM393.3 254.7L397.4 246.5L401.5 254.7ZM446.3 247.7L450.4 239.5L454.5 247.7ZM126.1 117.5L131.1 107.5L136.1 117.5Z" stroke="#ff7f3f" stroke-width="0.8"/>
<path d="M326.3 319.9l8.2 8.2M326.3 328.1l8.2 -8.2M370.9 302.5l8.2 8.2M370.9 310.7l8.2 -8.2M409.3 269.1l8.2 8.2M409.3 277.3l8.2 -8.2M647.5 209.5l8.2 8.2M647.5 217.7l8.2 -8.2M319.3 346.9l8.2 8.2M319.3 355.1l8.2 -8.2M322.7 347.7l8.2 8.2M322.7 355.9l8.2 -8.2M393.3 287.9l8.2 8.2M393.3 296.1l8.2 -8.2M579.9 215.2l8.2 8.2M579.9 223.4l8.2 -8.2M622.4 221.7l8.2 8.2M622.4 229.9l8.2 -8.2M640.4 223.9l8.2 8.2M640.4 232.1l8.2 -8.2M605.7 249.5l8.2 8.2M605.7 257.7l8.2 -8.2M594.3 266.1l8.2 8.2M594.3 274.3l8.2 -8.2M126.1 123.8l10 10M126.1 133.8l10 -10" stroke="#ff0000" stroke-width="0.8"/>
<path d="M246.3 327.2a6.3 6.3 0 1 0 12.6 0a6.3 6.3 0 1 0 -12.6 0ZM391.1 250.6a6.3 6.3 0 1 0 12.6 0a6.3 6.3 0 1 0 -12.6 0ZM317.1 351a6.3 6.3 0 1 0 12.6 0a6.3 6.3 0 1 0 -12.6 0ZM391.1 292a6.3 6.3 0 1 0 12.6 0a6.3 6.3 0 1 0 -12.6 0ZM577.7 219.3a6.3 6.3 0 1 0 12.6 0a6.3 6.3 0 1 0 -12.6 0ZM620.2 225.8a6.3 6.3 0 1 0 12.6 0a6.3 6.3 0 1 0 -12.6 0ZM638.2 228a6.3 6.3 0 1 0 12.6 0a6.3 6.3 0 1 0 -12.6 0ZM603.5 253.6a6.3 6.3 0 1 0 12.6 0a6.3 6.3 0 1 0 -12.6 0ZM592.1 270.2a6.3 6.3 0 1 0 12.6 0a6.3 6.3 0 1 0 -12.6 0Z" stroke="#000" stroke-width="0.65"/>
<path d="M278.6 349.7a6.1 6.1 0 1 0 12.2 0a6.1 6.1 0 1 0 -12.2 0Z" stroke="#ff0000" stroke-width="0.65"/>
<circle cx="284.7" cy="349.7" r="1.25" fill="#ff0000" stroke="none"/>
<path d="M168.6 305.4L566.4 190.8" stroke="#0000ff" stroke-width="1.85"/>
<path d="M122.6 366.1L449.6 235.5" stroke="#ff7f3f" stroke-width="1.85"/>
<path d="M277.2 331.5L651.6 222.1" stroke="#ff0000" stroke-width="1.9"/>
</g>
</svg>
</body></html>
